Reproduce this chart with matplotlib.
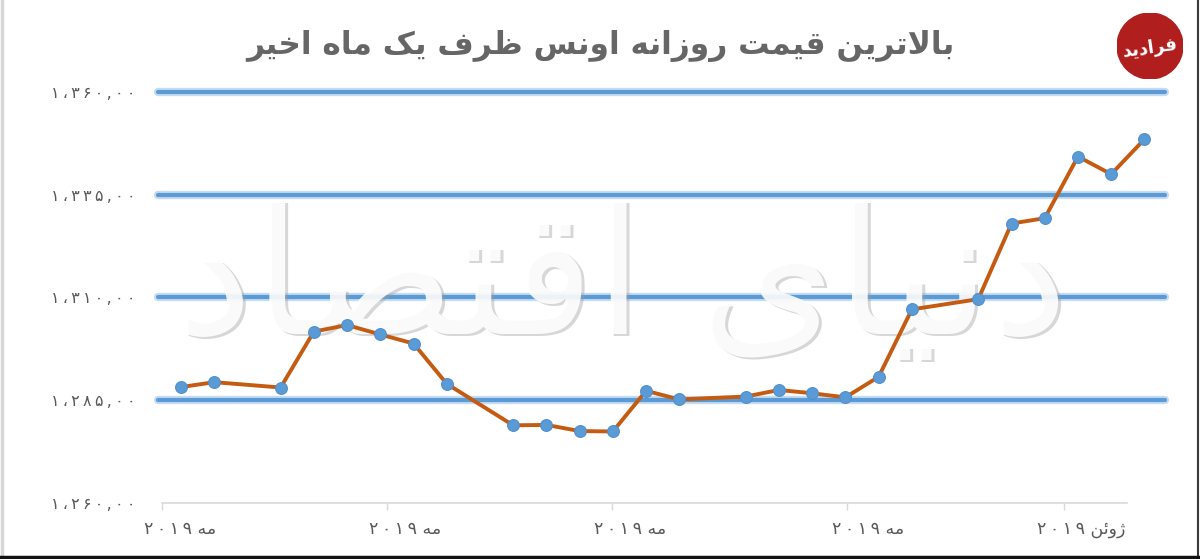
import matplotlib
matplotlib.use("Agg")
import matplotlib.pyplot as plt
from matplotlib.patches import Circle
from matplotlib.lines import Line2D
from matplotlib.transforms import offset_copy

# ---------------- data ----------------
title_text = "بالاترین قیمت روزانه اونس ظرف یک ماه اخیر"
watermark_text = "دنیای اقتصاد"
logo_text = "فرادید"
day_index = [0, 1, 3, 4, 5, 6, 7, 8, 10, 11, 12, 13, 14, 15, 17, 18, 19, 20,
             21, 22, 24, 25, 26, 27, 28, 29]
price = [1288.2, 1289.4, 1288.1, 1301.7, 1303.3, 1301.0, 1298.8, 1289.0,
         1278.9, 1279.0, 1277.5, 1277.4, 1287.3, 1285.2, 1285.9, 1287.5,
         1286.7, 1285.7, 1290.7, 1307.1, 1309.6, 1328.0, 1329.3, 1344.3,
         1340.0, 1348.5]
y_ticks = [1260, 1285, 1310, 1335, 1360]
x_tick_marks = [-0.58, 6.19, 12.97, 20.05, 26.58]
x_label_pos = [-0.03, 6.74, 13.52, 20.68, 27.09]
x_label_month = ["مه", "مه", "مه", "مه", "ژوئن"]
x_label_year = [2019, 2019, 2019, 2019, 2019]

# ------------- minimal Persian shaping -------------
FORMS = {  # isolated, final, initial, medial
    'ا': ('\uFE8D', '\uFE8E', None, None),
    'د': ('\uFEA9', '\uFEAA', None, None),
    'ر': ('\uFEAD', '\uFEAE', None, None),
    'ز': ('\uFEAF', '\uFEB0', None, None),
    'ژ': ('\uFB8A', '\uFB8B', None, None),
    'و': ('\uFEED', '\uFEEE', None, None),
    'ب': ('\uFE8F', '\uFE90', '\uFE91', '\uFE92'),
    'ت': ('\uFE95', '\uFE96', '\uFE97', '\uFE98'),
    'خ': ('\uFEA5', '\uFEA6', '\uFEA7', '\uFEA8'),
    'س': ('\uFEB1', '\uFEB2', '\uFEB3', '\uFEB4'),
    'ص': ('\uFEB9', '\uFEBA', '\uFEBB', '\uFEBC'),
    'ظ': ('\uFEC5', '\uFEC6', '\uFEC7', '\uFEC8'),
    'ف': ('\uFED1', '\uFED2', '\uFED3', '\uFED4'),
    'ق': ('\uFED5', '\uFED6', '\uFED7', '\uFED8'),
    'ل': ('\uFEDD', '\uFEDE', '\uFEDF', '\uFEE0'),
    'م': ('\uFEE1', '\uFEE2', '\uFEE3', '\uFEE4'),
    'ن': ('\uFEE5', '\uFEE6', '\uFEE7', '\uFEE8'),
    'ه': ('\uFEE9', '\uFEEA', '\uFEEB', '\uFEEC'),
    'ی': ('\uFBFC', '\uFBFD', '\uFBFE', '\uFBFF'),
    'ک': ('\uFB8E', '\uFB8F', '\uFB90', '\uFB91'),
    'ئ': ('\uFE89', '\uFE8A', '\uFE8B', '\uFE8C'),
}


def dual(c):
    return c in FORMS and FORMS[c][2] is not None


def shape_word(w):
    out = []
    i = 0
    n = len(w)
    while i < n:
        c = w[i]
        if c not in FORMS:
            out.append(c)
            i += 1
            continue
        jp = i > 0 and dual(w[i - 1])
        if c == 'ل' and i + 1 < n and w[i + 1] == 'ا':
            out.append('\uFEFC' if jp else '\uFEFB')
            i += 2
            continue
        jn = dual(c) and i + 1 < n and w[i + 1] in FORMS
        f = FORMS[c]
        if jp and jn:
            out.append(f[3])
        elif jp:
            out.append(f[1])
        elif jn:
            out.append(f[2])
        else:
            out.append(f[0])
        i += 1
    return ''.join(out)


def fa_digits(s):
    return s.translate(str.maketrans('0123456789', '۰۱۲۳۴۵۶۷۸۹'))


def rtl(text):
    words = text.split(' ')
    vis = []
    for w in words:
        if any(ch in FORMS for ch in w):
            vis.append(shape_word(w)[::-1])
        else:
            vis.append(w)
    return ' '.join(vis[::-1])


def spaced(s):
    return '\u2009'.join(s)


def y_fmt(v):
    s = f"{v:,.2f}".replace(',', '#').replace('.', ',').replace('#', '،')
    return spaced(fa_digits(s))


# ---------------- figure ----------------
W, H = 1200, 559
fig = plt.figure(figsize=(W / 100, H / 100), dpi=100)
fig.patch.set_facecolor('white')

ax = fig.add_axes([158 / W, 56 / H, 1007 / W, 411 / H])
ax.set_xlim(-0.692, 29.62)
ax.set_ylim(1260, 1360)
for s in ax.spines.values():
    s.set_visible(False)

# gridlines (blue, glowing)
for yv in y_ticks[1:]:
    ax.axhline(yv, color='#c4dbf2', lw=6.0, solid_capstyle='round',
               clip_on=False, zorder=1)
    ax.axhline(yv, color='#5b9bd5', lw=3.0, solid_capstyle='round',
               clip_on=False, zorder=1.1)

# x axis line
ax.axhline(1260, xmin=0.004, xmax=0.962, color='#d9d9d9', lw=1.2,
           clip_on=False, zorder=1)

# data line
ax.plot(day_index, price, color='#c55a11', lw=2.8, zorder=3,
        solid_joinstyle='round')
ax.plot(day_index, price, linestyle='none', marker='o', markersize=8.5,
        markerfacecolor='#5b9bd5', markeredgecolor='#4f8fcf',
        markeredgewidth=0.8, zorder=4)

# watermark between gridlines and data: grey shadow + white copy
wx, wy = 622 / W, 1 - 285 / H
shadow_tr = offset_copy(fig.transFigure, fig=fig, x=2.5, y=-2.5,
                        units='dots')
ax.text(wx, wy, rtl(watermark_text), fontsize=126, color='#9c9c9c',
        alpha=0.4, ha='center', va='center', family='DejaVu Sans',
        transform=shadow_tr, zorder=2, clip_on=False)
ax.text(wx, wy, rtl(watermark_text), fontsize=126, color='white',
        alpha=0.88, ha='center', va='center', family='DejaVu Sans',
        transform=fig.transFigure, zorder=2.1, clip_on=False)

# ticks
ax.set_yticks(y_ticks)
ax.set_yticklabels([y_fmt(v) for v in y_ticks], color='#595959',
                   fontsize=11.5, family='DejaVu Sans')
ax.tick_params(axis='y', length=0, pad=16)

ax.set_xticks(x_tick_marks)
ax.set_xticklabels([''] * len(x_tick_marks))
ax.tick_params(axis='x', which='major', length=5, color='#d9d9d9', width=1)
ax.set_xticks(x_label_pos, minor=True)
ax.set_xticklabels([rtl(m + ' ' + spaced(fa_digits(str(y))))
                    for m, y in zip(x_label_month, x_label_year)],
                   minor=True, color='#595959', fontsize=12.5,
                   family='DejaVu Sans')
ax.tick_params(axis='x', which='minor', length=0, pad=12)

# title
fig.text(600 / W, 1 - 46 / H, rtl(title_text), fontsize=22.5,
         fontweight='bold', color='#666666', ha='center', va='center',
         family='DejaVu Sans')

# logo
lax = fig.add_axes([1117 / W, 1 - 79 / H, 66 / W, 66 / H])
lax.set_xlim(-1, 1)
lax.set_ylim(-1, 1)
lax.axis('off')
lax.add_patch(Circle((0, 0), 1.0, color='#b01e1e'))
lax.text(0, -0.05, rtl(logo_text), color='white', fontsize=13,
         fontweight='bold', ha='center', va='center', rotation=8,
         family='DejaVu Sans')

# frame
fig.add_artist(Line2D([1.5 / W, 1.5 / W], [0, 1], color='#d6d6d6', lw=2.5,
                      transform=fig.transFigure))
fig.add_artist(Line2D([1197.5 / W, 1197.5 / W], [0, 1], color='#3a3a3a',
                      lw=1.5, transform=fig.transFigure))
fig.add_artist(Line2D([0, 1], [1 - 557 / H, 1 - 557 / H], color='#111111',
                      lw=2.5, transform=fig.transFigure))

fig.savefig('out.png', dpi=100, facecolor='white')
